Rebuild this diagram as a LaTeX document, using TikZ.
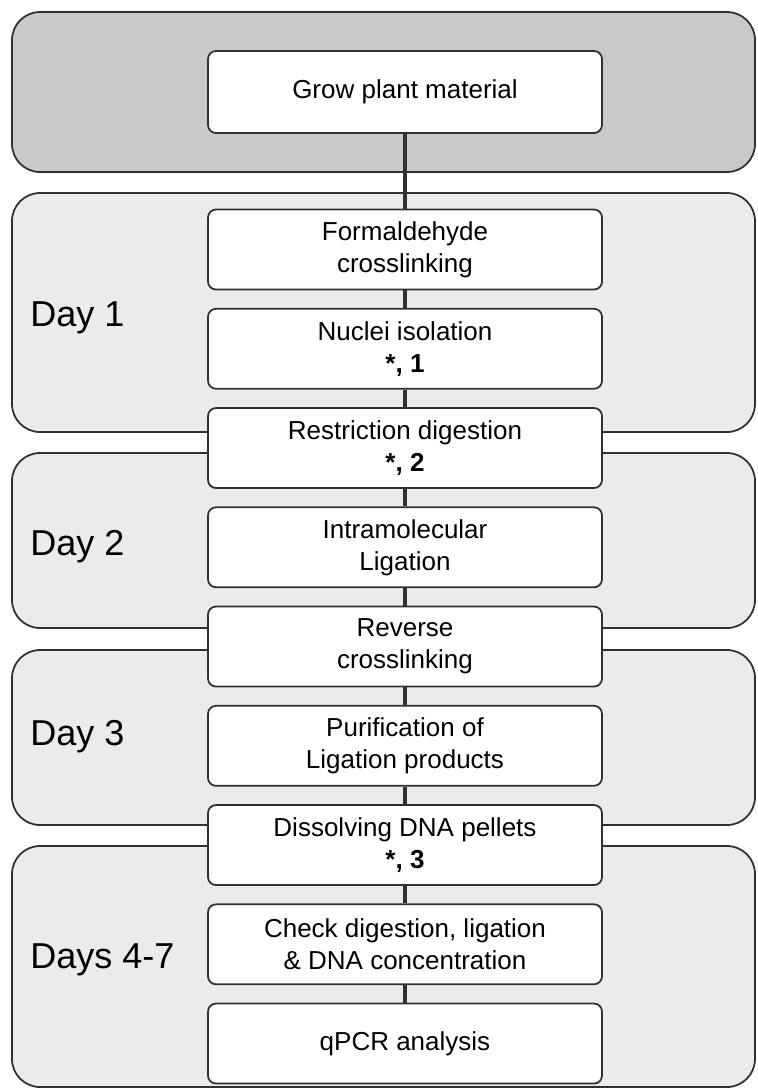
\documentclass[tikz,border=0pt]{standalone}
\usepackage{fontspec}
\setmainfont{Liberation Sans}
\usepackage{xcolor}
\usepackage{tikz}
\usetikzlibrary{positioning}

\definecolor{topgray}{HTML}{C8C9CB}
\definecolor{daygray}{HTML}{EBEBEC}
\definecolor{edgegray}{HTML}{303030}

\begin{document}
\begin{tikzpicture}[
	stepbox/.style={draw=edgegray,line width=1pt,fill=white,rounded corners=0.16cm,minimum width=7.88cm,minimum height=1.6cm,align=center,font=\fontsize{14.8}{18.2}\selectfont},
	daylabel/.style={anchor=west,inner sep=0pt,font=\fontsize{20.5}{24}\selectfont},
	panel/.style={draw=edgegray,line width=1pt,rounded corners=0.56cm},
	link/.style={draw=edgegray,line width=2pt},
	node distance=0.35cm]
	\useasboundingbox (0,0) rectangle (15.14,-21.78);
	
	\draw[panel,fill=topgray] (0.24,-0.24) rectangle (15.10,-3.44);
	\draw[panel,fill=daygray] (0.24,-3.86) rectangle (15.10,-8.64);
	\draw[panel,fill=daygray] (0.24,-9.06) rectangle (15.10,-12.56);
	\draw[panel,fill=daygray] (0.24,-13.00) rectangle (15.10,-16.50);
	\draw[panel,fill=daygray] (0.24,-16.92) rectangle (15.10,-21.74);
	
	\node[daylabel] (day1) at (0.6,-6.36) {Day 1};
	\node[daylabel] (day2) at (0.6,-10.94) {Day 2};
	\node[daylabel] (day3) at (0.6,-14.74) {Day 3};
	\node[daylabel] (day4) at (0.6,-19.20) {Days 4-7};
	
	\node[stepbox,minimum height=1.64cm] (grow) at (8.10,-1.84) {Grow plant material};
	\node[stepbox] (form) at (8.10,-4.99) {Formaldehyde\\crosslinking};
	\node[stepbox,below=of form] (nuclei) {Nuclei isolation\\\textbf{*, 1}};
	\node[stepbox,below=of nuclei] (digest) {Restriction digestion\\\textbf{*, 2}};
	\node[stepbox,below=of digest] (ligate) {Intramolecular\\Ligation};
	\node[stepbox,below=of ligate] (reverse) {Reverse\\crosslinking};
	\node[stepbox,below=of reverse] (purify) {Purification of\\Ligation products};
	\node[stepbox,below=of purify] (dissolve) {Dissolving DNA pellets\\\textbf{*, 3}};
	\node[stepbox,below=of dissolve] (check) {Check digestion, ligation\\\& DNA concentration};
	\node[stepbox,below=of check] (qpcr) {qPCR analysis};
	
	\draw[link] (grow.south) -- (form.north);
	\draw[link] (form.south) -- (nuclei.north);
	\draw[link] (nuclei.south) -- (digest.north);
	\draw[link] (digest.south) -- (ligate.north);
	\draw[link] (ligate.south) -- (reverse.north);
	\draw[link] (reverse.south) -- (purify.north);
	\draw[link] (purify.south) -- (dissolve.north);
	\draw[link] (dissolve.south) -- (check.north);
	\draw[link] (check.south) -- (qpcr.north);
\end{tikzpicture}
\end{document}
